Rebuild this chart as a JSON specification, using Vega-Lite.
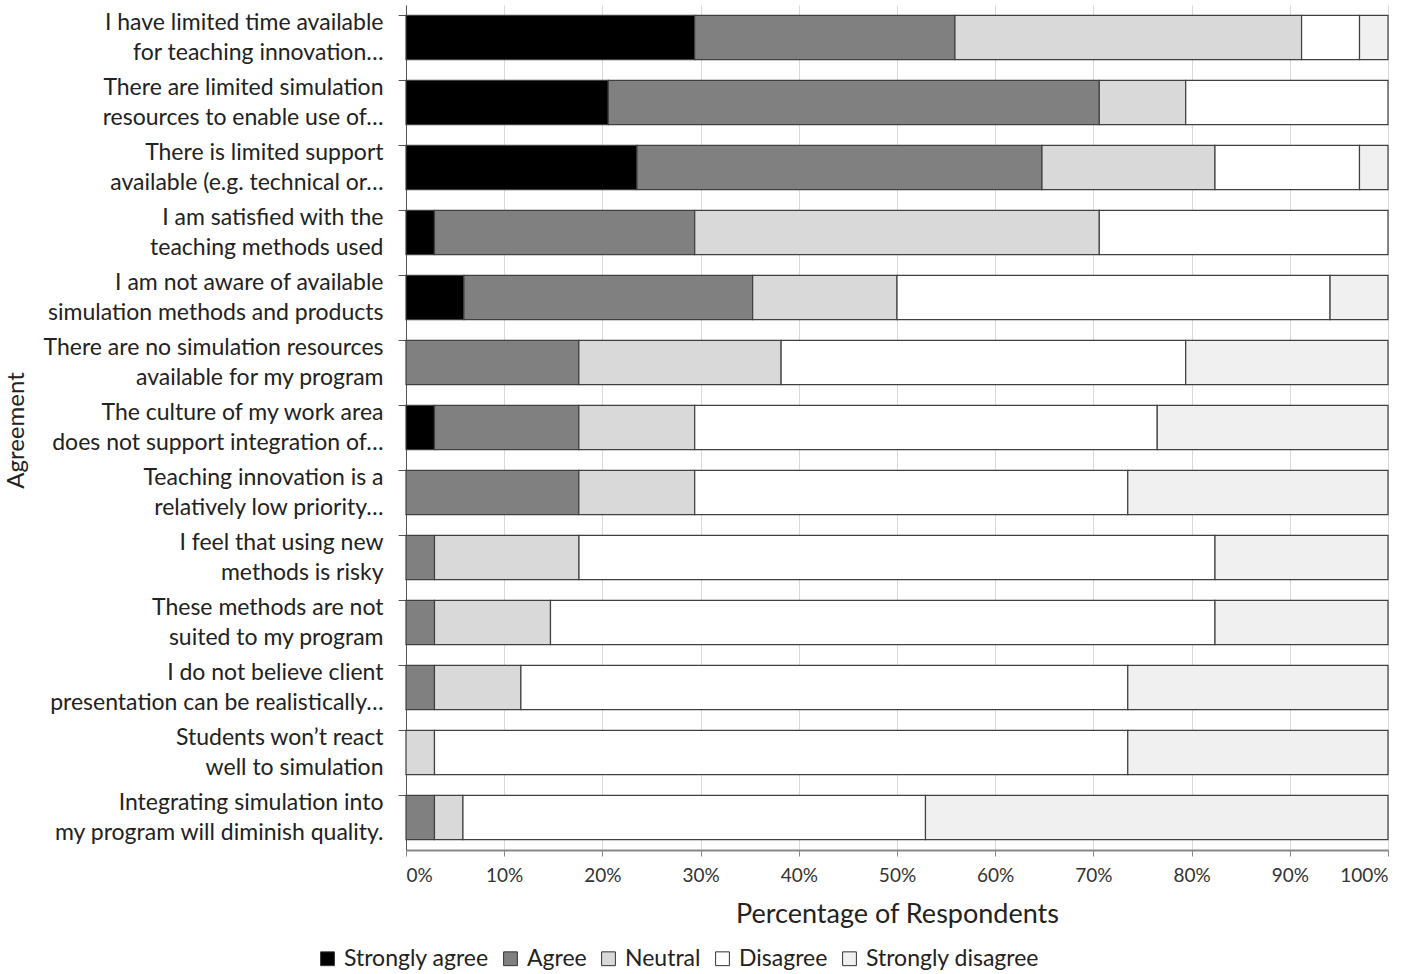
{
  "$schema": "https://vega.github.io/schema/vega-lite/v6.json",
  "width": 982,
  "height": 845,
  "autosize": {"type": "none"},
  "padding": {"left": 406, "top": 5, "right": 30, "bottom": 124},
  "background": "white",
  "config": {
    "font": "Lato",
    "view": {"stroke": null}
  },
  "data": {
    "values": [
      {"q": "I have limited time available|for teaching innovation…", "level": "Strongly agree", "k": 1, "pct": 29.4},
      {"q": "I have limited time available|for teaching innovation…", "level": "Agree", "k": 2, "pct": 26.5},
      {"q": "I have limited time available|for teaching innovation…", "level": "Neutral", "k": 3, "pct": 35.3},
      {"q": "I have limited time available|for teaching innovation…", "level": "Disagree", "k": 4, "pct": 5.9},
      {"q": "I have limited time available|for teaching innovation…", "level": "Strongly disagree", "k": 5, "pct": 2.9},
      {"q": "There are limited simulation|resources to enable use of…", "level": "Strongly agree", "k": 1, "pct": 20.6},
      {"q": "There are limited simulation|resources to enable use of…", "level": "Agree", "k": 2, "pct": 50.0},
      {"q": "There are limited simulation|resources to enable use of…", "level": "Neutral", "k": 3, "pct": 8.8},
      {"q": "There are limited simulation|resources to enable use of…", "level": "Disagree", "k": 4, "pct": 20.6},
      {"q": "There is limited support|available (e.g. technical or…", "level": "Strongly agree", "k": 1, "pct": 23.5},
      {"q": "There is limited support|available (e.g. technical or…", "level": "Agree", "k": 2, "pct": 41.2},
      {"q": "There is limited support|available (e.g. technical or…", "level": "Neutral", "k": 3, "pct": 17.6},
      {"q": "There is limited support|available (e.g. technical or…", "level": "Disagree", "k": 4, "pct": 14.7},
      {"q": "There is limited support|available (e.g. technical or…", "level": "Strongly disagree", "k": 5, "pct": 2.9},
      {"q": "I am satisfied with the|teaching methods used", "level": "Strongly agree", "k": 1, "pct": 2.9},
      {"q": "I am satisfied with the|teaching methods used", "level": "Agree", "k": 2, "pct": 26.5},
      {"q": "I am satisfied with the|teaching methods used", "level": "Neutral", "k": 3, "pct": 41.2},
      {"q": "I am satisfied with the|teaching methods used", "level": "Disagree", "k": 4, "pct": 29.4},
      {"q": "I am not aware of available|simulation methods and products", "level": "Strongly agree", "k": 1, "pct": 5.9},
      {"q": "I am not aware of available|simulation methods and products", "level": "Agree", "k": 2, "pct": 29.4},
      {"q": "I am not aware of available|simulation methods and products", "level": "Neutral", "k": 3, "pct": 14.7},
      {"q": "I am not aware of available|simulation methods and products", "level": "Disagree", "k": 4, "pct": 44.1},
      {"q": "I am not aware of available|simulation methods and products", "level": "Strongly disagree", "k": 5, "pct": 5.9},
      {"q": "There are no simulation resources|available for my program", "level": "Agree", "k": 2, "pct": 17.6},
      {"q": "There are no simulation resources|available for my program", "level": "Neutral", "k": 3, "pct": 20.6},
      {"q": "There are no simulation resources|available for my program", "level": "Disagree", "k": 4, "pct": 41.2},
      {"q": "There are no simulation resources|available for my program", "level": "Strongly disagree", "k": 5, "pct": 20.6},
      {"q": "The culture of my work area|does not support integration of…", "level": "Strongly agree", "k": 1, "pct": 2.9},
      {"q": "The culture of my work area|does not support integration of…", "level": "Agree", "k": 2, "pct": 14.7},
      {"q": "The culture of my work area|does not support integration of…", "level": "Neutral", "k": 3, "pct": 11.8},
      {"q": "The culture of my work area|does not support integration of…", "level": "Disagree", "k": 4, "pct": 47.1},
      {"q": "The culture of my work area|does not support integration of…", "level": "Strongly disagree", "k": 5, "pct": 23.5},
      {"q": "Teaching innovation is a|relatively low priority…", "level": "Agree", "k": 2, "pct": 17.6},
      {"q": "Teaching innovation is a|relatively low priority…", "level": "Neutral", "k": 3, "pct": 11.8},
      {"q": "Teaching innovation is a|relatively low priority…", "level": "Disagree", "k": 4, "pct": 44.1},
      {"q": "Teaching innovation is a|relatively low priority…", "level": "Strongly disagree", "k": 5, "pct": 26.5},
      {"q": "I feel that using new|methods is risky", "level": "Agree", "k": 2, "pct": 2.9},
      {"q": "I feel that using new|methods is risky", "level": "Neutral", "k": 3, "pct": 14.7},
      {"q": "I feel that using new|methods is risky", "level": "Disagree", "k": 4, "pct": 64.7},
      {"q": "I feel that using new|methods is risky", "level": "Strongly disagree", "k": 5, "pct": 17.6},
      {"q": "These methods are not|suited to my program", "level": "Agree", "k": 2, "pct": 2.9},
      {"q": "These methods are not|suited to my program", "level": "Neutral", "k": 3, "pct": 11.8},
      {"q": "These methods are not|suited to my program", "level": "Disagree", "k": 4, "pct": 67.6},
      {"q": "These methods are not|suited to my program", "level": "Strongly disagree", "k": 5, "pct": 17.6},
      {"q": "I do not believe client|presentation can be realistically…", "level": "Agree", "k": 2, "pct": 2.9},
      {"q": "I do not believe client|presentation can be realistically…", "level": "Neutral", "k": 3, "pct": 8.8},
      {"q": "I do not believe client|presentation can be realistically…", "level": "Disagree", "k": 4, "pct": 61.8},
      {"q": "I do not believe client|presentation can be realistically…", "level": "Strongly disagree", "k": 5, "pct": 26.5},
      {"q": "Students won’t react|well to simulation", "level": "Neutral", "k": 3, "pct": 2.9},
      {"q": "Students won’t react|well to simulation", "level": "Disagree", "k": 4, "pct": 70.6},
      {"q": "Students won’t react|well to simulation", "level": "Strongly disagree", "k": 5, "pct": 26.5},
      {"q": "Integrating simulation into|my program will diminish quality.", "level": "Agree", "k": 2, "pct": 2.9},
      {"q": "Integrating simulation into|my program will diminish quality.", "level": "Neutral", "k": 3, "pct": 2.9},
      {"q": "Integrating simulation into|my program will diminish quality.", "level": "Disagree", "k": 4, "pct": 47.1},
      {"q": "Integrating simulation into|my program will diminish quality.", "level": "Strongly disagree", "k": 5, "pct": 47.1}
    ]
  },
  "mark": {"type": "bar", "stroke": "#404040", "strokeWidth": 1.2},
  "encoding": {
    "y": {
      "field": "q",
      "type": "nominal",
      "sort": null,
      "scale": {"paddingInner": 0.32, "paddingOuter": 0.16},
      "axis": {
        "title": "Agreement",
        "titleFont": "Lato",
        "titleFontSize": 24,
        "titleFontWeight": "normal",
        "titleColor": "#222222",
        "titleX": -390,
        "titleY": 425,
        "titleAngle": 270,
        "titleAlign": "center",
        "titleBaseline": "middle",
        "labelExpr": "split(datum.value, '|')",
        "labelFont": "Lato",
        "labelFontSize": 23,
        "labelColor": "#222222",
        "labelLineHeight": 30,
        "labelOffset": -15,
        "labelPadding": 15,
        "labelLimit": 400,
        "bandPosition": 0,
        "tickSize": 8,
        "tickColor": "#555555",
        "domainColor": "#555555",
        "grid": false
      }
    },
    "x": {
      "field": "pct",
      "type": "quantitative",
      "stack": "normalize",
      "scale": {"domain": [0, 1], "nice": false},
      "axis": {
        "title": "Percentage of Respondents",
        "titleFont": "Lato",
        "titleFontSize": 27,
        "titleFontWeight": "normal",
        "titleColor": "#222222",
        "titlePadding": 16,
        "format": ".0%",
        "values": [0, 0.1, 0.2, 0.3, 0.4, 0.5, 0.6, 0.7, 0.8, 0.9, 1],
        "labelFont": "Lato",
        "labelFontSize": 19,
        "labelColor": "#333333",
        "labelPadding": 10,
        "tickSize": 6,
        "tickColor": "#888888",
        "domainColor": "#888888",
        "domainWidth": 2,
        "grid": true,
        "gridColor": "#d9d9d9"
      }
    },
    "order": {"field": "k", "type": "quantitative"},
    "color": {
      "field": "level",
      "type": "nominal",
      "scale": {
        "domain": ["Strongly agree", "Agree", "Neutral", "Disagree", "Strongly disagree"],
        "range": ["#000000", "#808080", "#d9d9d9", "#ffffff", "#f0f0f0"]
      },
      "legend": {
        "title": null,
        "orient": "none",
        "direction": "horizontal",
        "legendX": -90,
        "legendY": 942,
        "symbolType": "square",
        "symbolSize": 190,
        "symbolStrokeColor": "#333333",
        "symbolStrokeWidth": 1,
        "labelFont": "Lato",
        "labelFontSize": 23,
        "labelColor": "#222222",
        "labelOffset": 5,
        "labelLimit": 400,
        "columnPadding": 10,
        "symbolOffset": 0
      }
    }
  }
}
